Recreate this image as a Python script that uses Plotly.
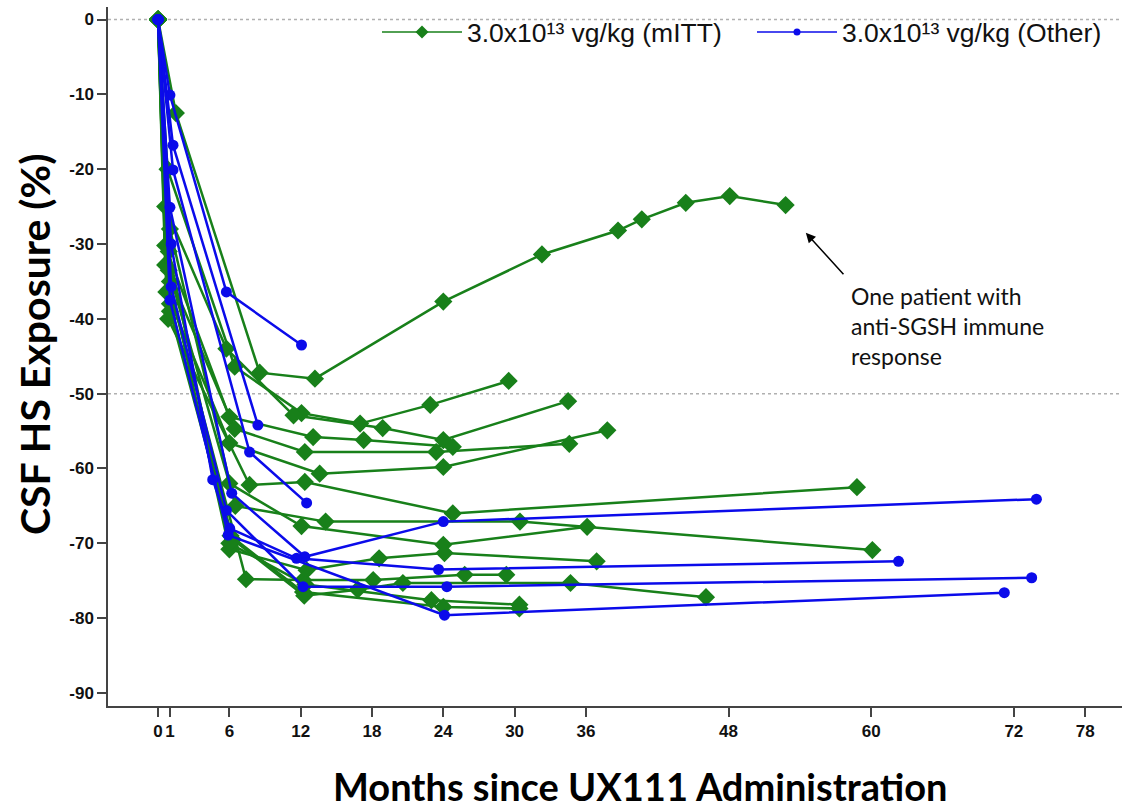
import plotly.graph_objects as go

# ---------------- data ----------------
# green (mITT) patients: months, % change
g_months = [
    [0, 1.5, 8.55, 13.2, 24.0, 32.3, 38.7, 40.7, 44.4, 48.1, 52.8],
    [0, 0.8, 6.45, 12.07, 17.0, 22.9, 29.5],
    [0, 0.6, 5.75, 11.4, 18.9, 24.0, 34.5],
    [0, 0.6, 6.0, 13.05, 17.3, 24.8],
    [0, 0.6, 6.45, 12.35, 23.4, 34.6],
    [0, 0.7, 6.0, 13.6, 24.0, 37.8],
    [0, 0.85, 7.7, 12.35, 24.8, 58.8],
    [0, 1.0, 6.5, 14.1, 30.45, 60.1],
    [0, 0.9, 6.0, 12.07, 24.0, 36.1],
    [0, 1.0, 6.0, 12.5, 18.6, 24.1, 36.9],
    [0, 1.0, 7.4, 12.2, 18.1, 25.8, 29.3],
    [0, 1.0, 6.3, 12.3, 16.8, 20.6, 34.7, 46.1],
    [0, 0.9, 6.0, 12.4, 23.0, 30.4],
    [0, 1.0, 6.1, 12.2, 24.0, 30.4],
]
g_values = [
    [0, -12.5, -47.2, -48.0, -37.7, -31.4, -28.2, -26.7, -24.5, -23.6, -24.8],
    [0, -20.0, -46.4, -52.6, -54.0, -51.5, -48.3],
    [0, -25.0, -44.0, -52.9, -54.6, -56.2, -51.0],
    [0, -30.2, -53.1, -55.8, -56.2, -57.1],
    [0, -32.8, -54.7, -57.8, -57.8, -56.7],
    [0, -36.4, -56.6, -60.7, -59.8, -54.9],
    [0, -40.0, -62.2, -61.8, -66.0, -62.5],
    [0, -28.0, -65.0, -67.1, -67.1, -70.9],
    [0, -33.5, -62.0, -67.7, -70.2, -67.8],
    [0, -35.0, -70.8, -73.6, -72.0, -71.3, -72.4],
    [0, -36.0, -74.8, -74.9, -74.9, -74.2, -74.2],
    [0, -38.0, -69.5, -77.0, -76.2, -75.3, -75.3, -77.2],
    [0, -31.0, -70.0, -75.5, -77.6, -78.2],
    [0, -39.0, -69.0, -76.5, -78.5, -78.7],
]
# blue (Other) patients
b_months = [
    [0, 1.0, 5.75, 12.07],
    [0, 1.26, 8.4],
    [0, 1.26, 7.7, 12.5],
    [0, 1.0, 6.2, 12.35, 24.0, 73.9],
    [0, 1.1, 4.6, 6.03, 11.65, 23.6, 62.3],
    [0, 1.1, 5.75, 12.2, 24.3, 73.5],
    [0, 1.0, 5.9, 24.1, 71.2],
]
b_values = [
    [0, -10.1, -36.4, -43.5],
    [0, -16.8, -54.2],
    [0, -20.1, -57.8, -64.6],
    [0, -25.1, -63.3, -71.8, -67.1, -64.1],
    [0, -30.0, -61.5, -68.0, -72.0, -73.5, -72.4],
    [0, -35.7, -65.6, -75.8, -75.8, -74.6],
    [0, -37.5, -68.9, -79.6, -76.6],
]

x_tickvals = [0, 1, 6, 12, 18, 24, 30, 36, 48, 60, 72, 78]
x_ticktext = ["0", "1", "6", "12", "18", "24", "30", "36", "48", "60", "72", "78"]
y_tickvals = [0, -10, -20, -30, -40, -50, -60, -70, -80, -90]
y_ticktext = ["0", "-10", "-20", "-30", "-40", "-50", "-60", "-70", "-80", "-90"]
ref_lines = [0, -50]
legend_names = ["3.0x10¹³ vg/kg (mITT)", "3.0x10¹³ vg/kg (Other)"]

GREEN = "#18801a"
BLUE = "#0b0bea"

fig = go.Figure()

for mx, vy in zip(g_months, g_values):
    fig.add_trace(go.Scatter(x=mx, y=vy, mode="lines+markers",
                             line=dict(color=GREEN, width=2.5),
                             marker=dict(symbol="diamond", size=14, color=GREEN),
                             showlegend=False, hoverinfo="skip"))
for mx, vy in zip(b_months, b_values):
    fig.add_trace(go.Scatter(x=mx, y=vy, mode="lines+markers",
                             line=dict(color=BLUE, width=2.5),
                             marker=dict(symbol="circle", size=11, color=BLUE),
                             showlegend=False, hoverinfo="skip"))

# legend-only entries (two separate legends so each can be placed)
fig.add_trace(go.Scatter(x=[None], y=[None], mode="lines+markers",
                         name=legend_names[0], legend="legend",
                         line=dict(color=GREEN, width=1.5),
                         marker=dict(symbol="diamond", size=10, color=GREEN)))
fig.add_trace(go.Scatter(x=[None], y=[None], mode="lines+markers",
                         name=legend_names[1], legend="legend2",
                         line=dict(color=BLUE, width=1.5),
                         marker=dict(symbol="circle", size=7, color=BLUE)))

for r in ref_lines:
    fig.add_shape(type="line", xref="paper", x0=0, x1=1, yref="y", y0=r, y1=r,
                  line=dict(color="#b0b0b0", width=1.5, dash="dot"), layer="below")

tick_font = dict(family="Liberation Sans, Arial", size=17, color="#111")
leg_font = dict(family="Liberation Sans, Arial", size=26.5, color="#111")

fig.update_layout(
    width=1135, height=810,
    margin=dict(l=108, r=13, t=7, b=104),
    paper_bgcolor="white", plot_bgcolor="white",
    showlegend=True,
    legend=dict(orientation="h", x=(377 - 108) / 1014, xanchor="left",
                y=0.998, yanchor="top", font=leg_font, itemwidth=80,
                bgcolor="rgba(0,0,0,0)"),
    legend2=dict(orientation="h", x=(752 - 108) / 1014, xanchor="left",
                 y=0.998, yanchor="top", font=leg_font, itemwidth=80,
                 bgcolor="rgba(0,0,0,0)"),
    xaxis=dict(range=[-4.21, 81.1], tickmode="array", tickvals=x_tickvals,
               ticktext=["<b>%s</b>" % t for t in x_ticktext], tickangle=0,
               ticks="outside", ticklen=9,
               tickwidth=1.5, tickcolor="#444", showline=True, linecolor="#444",
               linewidth=1.5, showgrid=False, zeroline=False, tickfont=tick_font),
    yaxis=dict(range=[-91.74, 1.67], tickmode="array", tickvals=y_tickvals,
               ticktext=["<b>%s</b>" % t for t in y_ticktext],
               ticks="outside", ticklen=9, tickwidth=1.5, tickcolor="#444",
               showline=True, linecolor="#444", linewidth=1.5, showgrid=False,
               zeroline=False, tickfont=tick_font),
    annotations=[
        dict(text="<b>Months since UX111 Administration</b>", xref="paper", yref="paper",
             x=(640 - 108) / 1014, y=0, yshift=-80, xanchor="center", yanchor="middle",
             showarrow=False, font=dict(family="Lato", size=38, color="black")),
        dict(text="<b>CSF HS Exposure (%)</b>", xref="paper", yref="paper",
             x=0, xshift=-74, y=(706 - 345) / 699, xanchor="center", yanchor="middle",
             textangle=-90, showarrow=False,
             font=dict(family="Lato", size=41, color="black")),
        dict(x=54.5, y=-28.5, xref="x", yref="y", ax=39, ay=43, text="",
             showarrow=True, arrowhead=2, arrowsize=1.3, arrowwidth=1.5,
             arrowcolor="black"),
        dict(text="One patient with<br>anti-SGSH immune<br>response", xref="paper",
             yref="paper", x=(849 - 108) / 1014, y=(706 - 280) / 699,
             xanchor="left", yanchor="top", align="left", showarrow=False,
             font=dict(family="Lato", size=23, color="#111")),
    ],
)

fig.write_html("out.html")
